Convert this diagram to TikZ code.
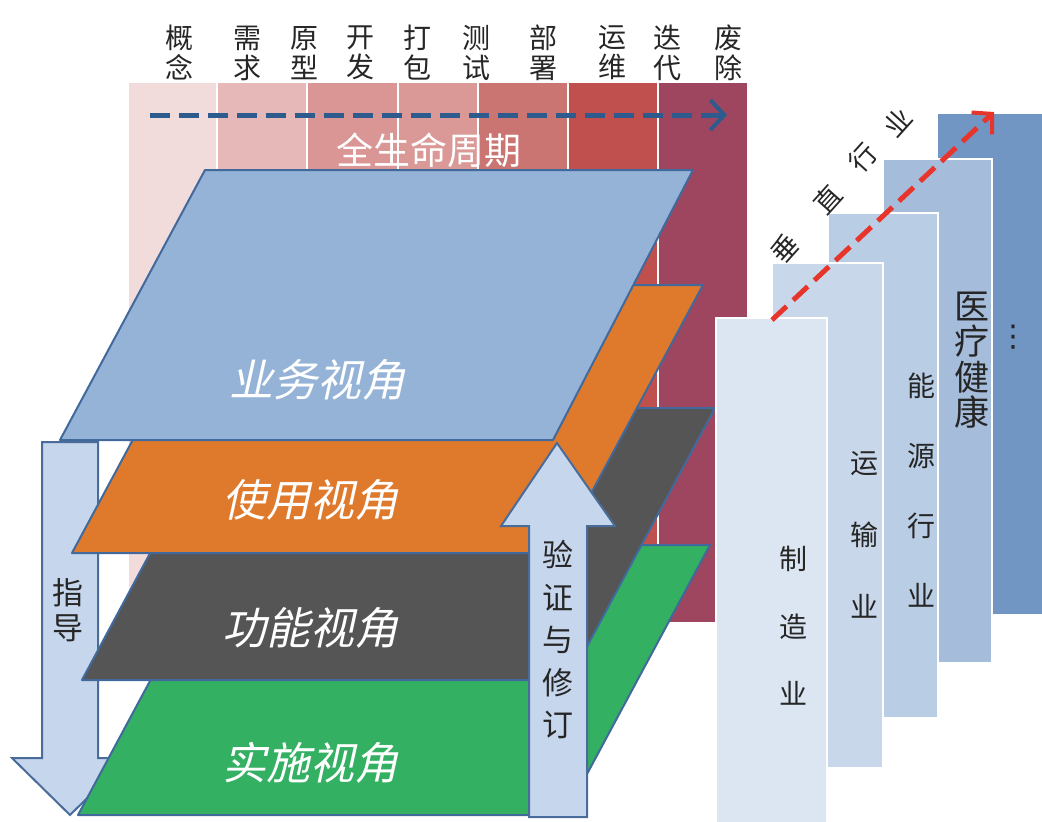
\documentclass[tikz,border=0pt]{standalone}
\usepackage{fontspec}
\setmainfont{Noto Sans CJK SC}
\newfontfamily\cjkit[FakeSlant=0.22]{Noto Sans CJK SC}
\newfontfamily\djv{DejaVu Sans}
\usetikzlibrary{arrows.meta}
\definecolor{cA}{HTML}{F2DCDB}
\definecolor{cB}{HTML}{E6B9B8}
\definecolor{cC}{HTML}{D99694}
\definecolor{cD}{HTML}{DA9997}
\definecolor{cE}{HTML}{CB7573}
\definecolor{cF}{HTML}{C0504D}
\definecolor{cG}{HTML}{9E4560}
\definecolor{bluedk}{HTML}{2E5B8E}
\definecolor{layerbd}{HTML}{41699C}
\definecolor{bizc}{HTML}{95B3D7}
\definecolor{usec}{HTML}{DF7A2D}
\definecolor{func}{HTML}{555555}
\definecolor{implc}{HTML}{33B062}
\definecolor{arrc}{HTML}{C6D6EC}
\definecolor{arrbd}{HTML}{4A6C9A}
\definecolor{indA}{HTML}{DCE6F2}
\definecolor{indB}{HTML}{C9D7EA}
\definecolor{indC}{HTML}{B9CDE5}
\definecolor{indD}{HTML}{A5BDDB}
\definecolor{indE}{HTML}{7196C4}
\definecolor{redc}{HTML}{E8352B}
\tikzset{
  lifecol/.style={draw=white, line width=1.5},
  lab/.style={inner sep=0, align=center, font=\fontsize{28}{30}\selectfont, text=black!85},
  layer/.style={draw=layerbd, line width=2, line join=round},
  laytext/.style={inner sep=0, text=white, font=\cjkit\fontsize{44}{44}\selectfont},
  bigarrow/.style={draw=arrbd, fill=arrc, line width=2, line join=miter},
  arrtext/.style={inner sep=0, align=center, text=black!85},
  indbar/.style={draw=white, line width=2.5},
  indtext/.style={inner sep=0, align=center, text=black!85},
  vtext/.style={inner sep=0, rotate=48, text=black!85, font=\fontsize{27}{27}\selectfont},
  dasharr/.style={line width=5, dash pattern=on 20 off 9, -{Straight Barb[length=14pt,width=30pt,line width=4pt]}},
}
\begin{document}
\begin{tikzpicture}[x=1pt,y=-1pt]
\useasboundingbox (0,0) rectangle (1042,822);
% lifecycle band
\fill[cA, lifecol] (128,82) rectangle (217,623);
\fill[cB, lifecol] (217,82) rectangle (307,623);
\fill[cC, lifecol] (307,82) rectangle (398,623);
\fill[cD, lifecol] (398,82) rectangle (478,623);
\fill[cE, lifecol] (478,82) rectangle (568,623);
\fill[cF, lifecol] (568,82) rectangle (658,623);
\fill[cG, lifecol] (658,82) rectangle (748,623);
% lifecycle labels
\node[lab] (l1) at (179,53) {概\\念};
\node[lab] (l2) at (247,53) {需\\求};
\node[lab] (l3) at (304,53) {原\\型};
\node[lab] (l4) at (360,53) {开\\发};
\node[lab] (l5) at (417,53) {打\\包};
\node[lab] (l6) at (476,53) {测\\试};
\node[lab] (l7) at (543,53) {部\\署};
\node[lab] (l8) at (612,53) {运\\维};
\node[lab] (l9) at (667,53) {迭\\代};
\node[lab] (l10) at (728,53) {废\\除};
\coordinate (lcs) at (150,115);
\coordinate (lce) at (727,115);
\draw[dasharr, bluedk] (lcs) -- (lce);
\node[inner sep=0, text=white, font=\fontsize{37}{37}\selectfont] (lct) at (429,150) {全生命周期};
% guide arrow (down)
\draw[bigarrow] (42,442) -- (98,442) -- (98,758) -- (128,758) -- (70,815) -- (12,758) -- (42,758) -- cycle;
\node[arrtext, font=\fontsize{31}{35}\selectfont] (guide) at (68,610) {指\\导};
% layers
\draw[layer, fill=implc] (223,545) -- (710,545) -- (565,815) -- (78,815) -- cycle;
\draw[layer, fill=func] (228,408) -- (715,408) -- (569,680) -- (82,680) -- cycle;
\draw[layer, fill=usec] (216,285) -- (703,285) -- (559,553) -- (72,553) -- cycle;
\draw[layer, fill=bizc] (205,170) -- (693,170) -- (553,440) -- (60,440) -- cycle;
\node[laytext] (biz) at (317,380) {业务视角};
\node[laytext] (use) at (310,500) {使用视角};
\node[laytext] (fun) at (310,628) {功能视角};
\node[laytext] (imp) at (310,763) {实施视角};
% verify arrow (up)
\draw[bigarrow] (529,817) -- (587,817) -- (587,526) -- (615,526) -- (557,443) -- (501,526) -- (529,526) -- cycle;
\node[arrtext, font=\fontsize{31}{42.5}\selectfont] (verify) at (558,640) {验\\证\\与\\修\\订};
% industry bars
\fill[indE, indbar] (937,113) rectangle (1060,615);
\fill[indD, indbar] (883,159) rectangle (992,663);
\fill[indC, indbar] (828,213) rectangle (938,718);
\fill[indB, indbar] (772,263) rectangle (883,768);
\fill[indA, indbar] (716,318) rectangle (827,840);
\node[indtext, font=\fontsize{28}{67.5}\selectfont] (mfg) at (793,626) {制\\造\\业};
\node[indtext, font=\fontsize{28}{72}\selectfont] (trn) at (864,535) {运\\输\\业};
\node[indtext, font=\fontsize{28}{70}\selectfont] (eng) at (921,490) {能\\源\\行\\业};
\node[indtext, font=\fontsize{35}{35.5}\selectfont] (med) at (972,360) {医\\疗\\健\\康};
\node[inner sep=0, text=black!85, font=\djv\fontsize{30}{30}\selectfont] (more) at (1013,337) {⋮};
% vertical industry arrow
\coordinate (vs) at (772,320);
\coordinate (ve) at (994,112);
\draw[dasharr, redc] (vs) -- (ve);
\node[vtext] (v1) at (785,248) {垂};
\node[vtext] (v2) at (828,199) {直};
\node[vtext] (v3) at (863,158) {行};
\node[vtext] (v4) at (897,122) {业};
\end{tikzpicture}
\end{document}
